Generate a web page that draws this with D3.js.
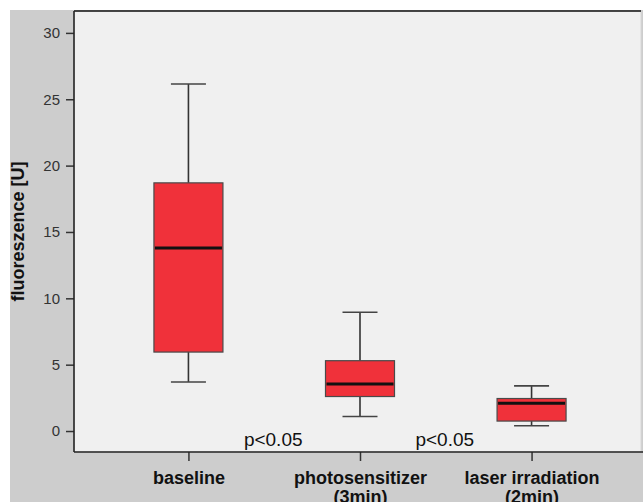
<!doctype html>
<html lang="en">
<head>
<meta charset="utf-8">
<title>fluoreszence boxplot</title>
<style>
  body { margin: 0; background: #fff; }
  svg { display: block; font-family: "Liberation Sans", Arial, sans-serif; }
</style>
</head>
<body>
<script src="https://d3js.org/d3.v7.min.js"></script>
<script>
// values
var groups = ["baseline", "photosensitizer|(3min)", "laser irradiation|(2min)"];
var whiskerLow = [3.7, 1.1, 0.4];
var q1 = [5.95, 2.6, 0.75];
var median = [13.8, 3.55, 2.1];
var q3 = [18.7, 5.3, 2.45];
var whiskerHigh = [26.15, 8.95, 3.4];
var yTicks = [0, 5, 10, 15, 20, 25, 30];
var pLabels = [{between: [0, 1], text: "p<0.05"}, {between: [1, 2], text: "p<0.05"}];

var width = 643, height = 502;
var plot = {left: 74, top: 11, right: 641, bottom: 452};

var svg = d3.select("body").append("svg")
    .attr("width", width)
    .attr("height", height);

// grey outer panel
svg.append("rect")
    .attr("x", 10).attr("y", 10)
    .attr("width", width - 10).attr("height", height - 10)
    .attr("fill", "#cdcdcd");

// plot area
svg.append("rect")
    .attr("x", plot.left).attr("y", plot.top)
    .attr("width", plot.right - plot.left).attr("height", plot.bottom - plot.top)
    .attr("fill", "#f0f0f0")
    .attr("stroke", "#d8d8d8");

var y = d3.scaleLinear()
    .domain([-1.58, 31.65])
    .range([plot.bottom, plot.top]);

var x = d3.scalePoint()
    .domain(groups)
    .range([plot.left, 646])
    .padding(0.667);

var boxW = 69, capW = 35;

var data = groups.map(function(g, i) {
    return {g: g, lo: whiskerLow[i], q1: q1[i], med: median[i], q3: q3[i], hi: whiskerHigh[i]};
});

var box = svg.append("g").selectAll("g")
    .data(data)
    .enter().append("g")
    .attr("transform", function(d) { return "translate(" + x(d.g) + ",0)"; });

// whiskers
box.append("line")
    .attr("y1", function(d) { return y(d.lo); })
    .attr("y2", function(d) { return y(d.q1); })
    .attr("stroke", "#333").attr("stroke-width", 1.6);
box.append("line")
    .attr("y1", function(d) { return y(d.q3); })
    .attr("y2", function(d) { return y(d.hi); })
    .attr("stroke", "#333").attr("stroke-width", 1.6);
box.append("line")
    .attr("x1", -capW / 2).attr("x2", capW / 2)
    .attr("y1", function(d) { return y(d.lo); })
    .attr("y2", function(d) { return y(d.lo); })
    .attr("stroke", "#444").attr("stroke-width", 1.6);
box.append("line")
    .attr("x1", -capW / 2).attr("x2", capW / 2)
    .attr("y1", function(d) { return y(d.hi); })
    .attr("y2", function(d) { return y(d.hi); })
    .attr("stroke", "#444").attr("stroke-width", 1.6);

// boxes
box.append("rect")
    .attr("x", -boxW / 2)
    .attr("width", boxW)
    .attr("y", function(d) { return y(d.q3); })
    .attr("height", function(d) { return y(d.q1) - y(d.q3); })
    .attr("fill", "#f0313a")
    .attr("stroke", "#4a4a4a")
    .attr("stroke-width", 1.2);

// medians
box.append("line")
    .attr("x1", -boxW / 2 + 1).attr("x2", boxW / 2 - 1)
    .attr("y1", function(d) { return y(d.med); })
    .attr("y2", function(d) { return y(d.med); })
    .attr("stroke", "#111").attr("stroke-width", 3);

// p labels
svg.append("g").selectAll("text")
    .data(pLabels)
    .enter().append("text")
    .attr("x", function(d) { return (x(groups[d.between[0]]) + x(groups[d.between[1]])) / 2 - 1; })
    .attr("y", 446)
    .attr("text-anchor", "middle")
    .attr("font-size", 19)
    .attr("fill", "#111")
    .text(function(d) { return d.text; });

// y axis
var yAxis = svg.append("g")
    .attr("transform", "translate(" + plot.left + ",0)")
    .call(d3.axisLeft(y).tickValues(yTicks).tickSize(8).tickPadding(6).tickSizeOuter(0));
yAxis.select(".domain").remove();
yAxis.selectAll(".tick line").attr("stroke", "#333").attr("stroke-width", 1.5);
yAxis.selectAll(".tick text").attr("font-size", 15).attr("fill", "#333")
    .attr("font-family", "'Liberation Sans', Arial, sans-serif");

// x axis
var xAxis = svg.append("g")
    .attr("transform", "translate(0," + plot.bottom + ")")
    .call(d3.axisBottom(x).tickSize(9).tickSizeOuter(0).tickFormat(""));
xAxis.select(".domain").remove();
xAxis.selectAll(".tick line").attr("stroke", "#333").attr("stroke-width", 1.5);
xAxis.selectAll(".tick").each(function(d) {
    var lines = d.split("|");
    var t = d3.select(this).append("text")
        .attr("text-anchor", "middle")
        .attr("font-size", 18)
        .attr("font-weight", "bold")
        .attr("fill", "#111")
        .attr("font-family", "'Liberation Sans', Arial, sans-serif");
    lines.forEach(function(l, i) {
        t.append("tspan").attr("x", 0).attr("y", 32 + i * 19).text(l);
    });
});

// frame lines
svg.append("line")
    .attr("x1", plot.left).attr("x2", plot.right)
    .attr("y1", plot.top).attr("y2", plot.top)
    .attr("stroke", "#111").attr("stroke-width", 1.6);
svg.append("line")
    .attr("x1", plot.left).attr("x2", plot.left)
    .attr("y1", plot.top).attr("y2", plot.bottom)
    .attr("stroke", "#222").attr("stroke-width", 1.6);
svg.append("line")
    .attr("x1", plot.left).attr("x2", width)
    .attr("y1", plot.bottom).attr("y2", plot.bottom)
    .attr("stroke", "#222").attr("stroke-width", 1.6);

// y title
svg.append("text")
    .attr("transform", "translate(24," + ((plot.top + plot.bottom) / 2) + ") rotate(-90)")
    .attr("text-anchor", "middle")
    .attr("font-size", 18)
    .attr("font-weight", "bold")
    .attr("fill", "#111")
    .text("fluoreszence [U]");
</script>
</body>
</html>
